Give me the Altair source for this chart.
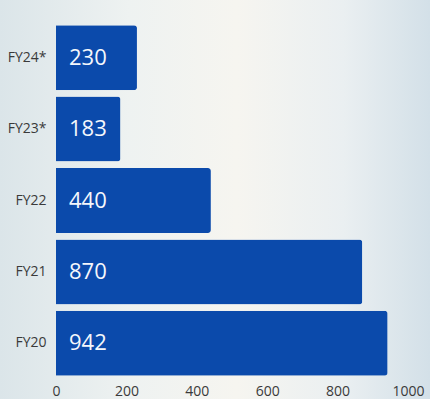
import altair as alt
import pandas as pd

# Fiscal years, top to bottom, and their values
years = ["FY24*", "FY23*", "FY22", "FY21", "FY20"]
values = [230, 183, 440, 870, 942]
x_ticks = [0, 200, 400, 600, 800, 1000]

df = pd.DataFrame({"year": years, "value": values})

FONT = "Open Sans"
BAR_BLUE = "#0b4aab"
AXIS_GREY = "#3a3a3a"

# Soft backdrop behind the whole chart
backdrop = alt.Chart(alt.Data(values=[{}])).mark_rect(
    color=alt.LinearGradient(
        gradient="linear",
        x1=0, x2=1, y1=0, y2=0,
        stops=[
            alt.GradientStop(color="#dbe5e9", offset=0),
            alt.GradientStop(color="#eef2f1", offset=0.3),
            alt.GradientStop(color="#f6f5f0", offset=0.55),
            alt.GradientStop(color="#eaeff1", offset=0.8),
            alt.GradientStop(color="#d3e0e8", offset=1),
        ],
    )
).encode(
    x=alt.value(-56), x2=alt.value(374),
    y=alt.value(-22), y2=alt.value(377),
)

y_enc = alt.Y(
    "year:N",
    sort=years,
    scale=alt.Scale(paddingInner=0.09, paddingOuter=0.045),
    axis=alt.Axis(
        title=None, ticks=False, domain=False, labelPadding=10, zindex=1,
        labelFont=FONT, labelFontSize=14, labelColor=AXIS_GREY,
    ),
)

bars = alt.Chart(df).mark_bar(
    color=BAR_BLUE, cornerRadiusEnd=3
).encode(
    x=alt.X(
        "value:Q",
        scale=alt.Scale(domain=[0, 1000], nice=False),
        axis=alt.Axis(
            title=None, values=x_ticks, format="d", ticks=False, domain=False,
            grid=False, labelPadding=5, labelFont=FONT, labelFontSize=14,
            zindex=1, labelColor=AXIS_GREY, labelFlush=False,
        ),
    ),
    y=y_enc,
)

labels = alt.Chart(df).mark_text(
    align="left", baseline="middle", dx=13,
    font=FONT, fontSize=22, color="#f4f7fc",
).encode(
    x=alt.datum(0),
    y=alt.Y("year:N", sort=years),
    text=alt.Text("value:Q"),
)

chart = alt.layer(backdrop, bars, labels).properties(
    width=352,
    height=357,
    padding={"left": 56, "right": 22, "top": 22, "bottom": 20},
    autosize=alt.AutoSizeParams(type="none"),
    background="#eef2f3",
).configure_view(stroke=None)

chart.save("out.html", embed_options={"renderer": "svg", "actions": False})
